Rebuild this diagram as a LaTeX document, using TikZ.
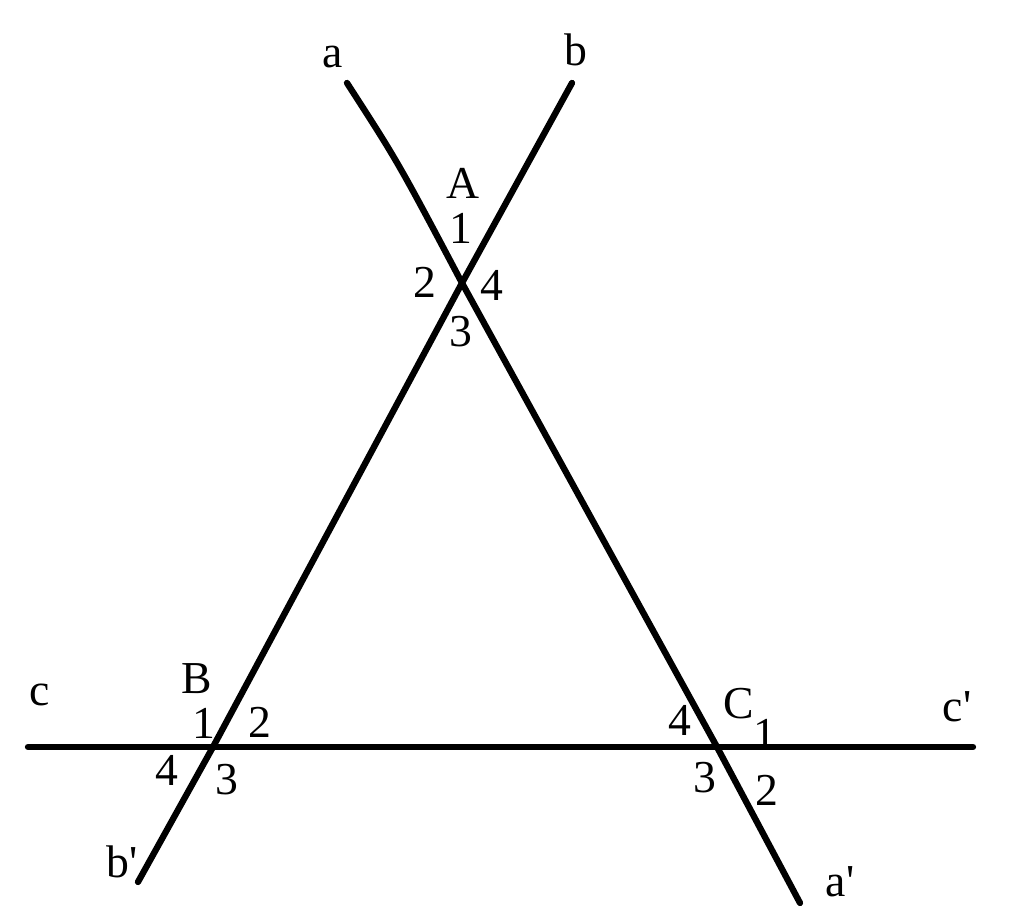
\documentclass[tikz,border=0pt]{standalone}
\usepackage{fontspec}
\setmainfont{Liberation Serif}
\usepackage{tikz}
\usetikzlibrary{positioning}
\tikzset{
  geoline/.style={line width=1.8pt, line cap=round},
  lbl/.style={inner sep=0pt, font=\fontsize{13}{15}\selectfont}
}

\begin{document}
\begin{tikzpicture}
\useasboundingbox (0,0) rectangle (10.24,9.22);
% Points
\coordinate (aend) at (3.47,8.39);
\coordinate (aprime) at (8.00,0.19);
\coordinate (bend) at (5.72,8.39);
\coordinate (bprime) at (1.38,0.40);
\coordinate (cend) at (0.28,1.75);
\coordinate (cprime) at (9.73,1.75);
\coordinate (A) at (4.62,6.39);
\coordinate (B) at (2.13,1.75);
\coordinate (C) at (7.17,1.75);

% Lines
\draw[geoline] (aend) .. controls (3.98,7.60) .. (A) -- (C) -- (aprime);
\draw[geoline] (bend) -- (A) -- (B) -- (bprime);
\draw[geoline] (cend) -- (B) -- (C) -- (cprime);

% Line names
\node[lbl] (la) at (3.33,8.65) {a};
\node[lbl] (lb) at (5.76,8.72) {b};
\node[lbl] (lc) at (0.40,2.27) {c};
\node[lbl] (lcp) at (9.57,2.15) {c\textquotesingle};
\node[lbl] (lbp) at (1.22,0.60) {b\textquotesingle};
\node[lbl] (lap) at (8.40,0.40) {a\textquotesingle};

% Angles at A
\node[lbl] (nA) at (4.63,7.39) {A};
\node[lbl] (A1) at (4.61,6.94) {1};
\node[lbl] (A2) at (4.25,6.40) {2};
\node[lbl] (A4) at (4.92,6.37) {4};
\node[lbl] (A3) at (4.61,5.90) {3};

% Angles at B
\node[lbl] (nB) at (1.97,2.43) {B};
\node[lbl] (B1) at (2.04,1.99) {1};
\node[lbl] (B2) at (2.60,2.00) {2};
\node[lbl] (B4) at (1.67,1.52) {4};
\node[lbl] (B3) at (2.27,1.42) {3};

% Angles at C
\node[lbl] (nC) at (7.39,2.18) {C};
\node[lbl] (C4) at (6.80,2.02) {4};
\node[lbl] (C1) at (7.65,1.88) {1};
\node[lbl] (C3) at (7.05,1.44) {3};
\node[lbl] (C2) at (7.67,1.32) {2};
\end{tikzpicture}
\end{document}
